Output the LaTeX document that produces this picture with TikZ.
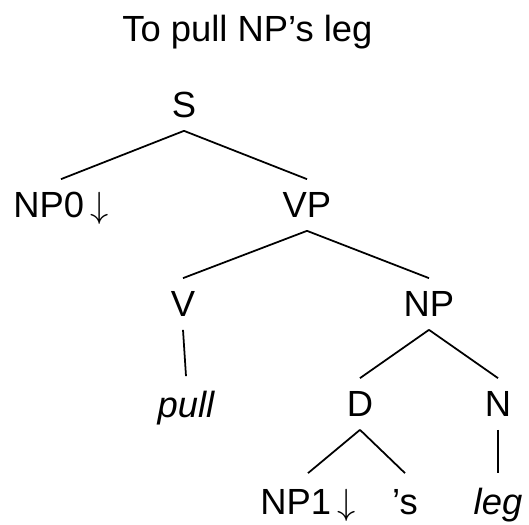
\documentclass[tikz,border=0pt]{standalone}
\usepackage{fontspec}
\setmainfont{Liberation Sans}
\usepackage{tikz}

\newcommand{\subst}{\ensuremath{\,\downarrow}}

\begin{document}
\begin{tikzpicture}[
    x=1cm, y=1cm,
    every node/.style={font=\fontsize{20.7}{24}\selectfont},
    cat/.style={anchor=base, inner sep=0.25cm, text height=0.52cm, text depth=0pt},
    leaf/.style={cat, text height=0.58cm},
    word/.style={leaf, font=\fontsize{20.7}{24}\selectfont\itshape},
    edge/.style={line width=1pt},
]
    \useasboundingbox (0, 0) rectangle (10.58, 10.5);

    % --- title ---
    \node[anchor=base, inner sep=0pt] (title) at (4.95, 9.66) {To pull NP’s leg};

    % --- nodes (absolute coordinates, top-to-bottom) ---
    \node[cat] (s)   at (3.68, 8.14) {S};
    \node[cat] (np0) at (1.22, 6.14) {NP0\subst};
    \node[cat] (vp)  at (6.14, 6.14) {VP};
    \node[cat] (v)   at (3.66, 4.16) {V};
    \node[cat] (np)  at (8.58, 4.16) {NP};
    \node[word] (pull) at (3.72, 2.14) {pull};
    \node[cat] (d)   at (7.20, 2.16) {D};
    \node[cat] (n)   at (9.96, 2.16) {N};
    \node[leaf] (np1) at (6.16, 0.20) {NP1\subst};
    \node[leaf] (poss) at (8.10, 0.20) {’s};
    \node[word] (leg) at (9.96, 0.20) {leg};

    % --- branches ---
    \draw[edge] (s.south)  -- (np0.north);
    \draw[edge] (s.south)  -- (vp.north);
    \draw[edge] (vp.south) -- (v.north);
    \draw[edge] (vp.south) -- (np.north);
    \draw[edge] (v.south)  -- (pull.north);
    \draw[edge] (np.south) -- (d.north);
    \draw[edge] (np.south) -- (n.north);
    \draw[edge] (d.south)  -- (np1.north);
    \draw[edge] (d.south)  -- (poss.north);
    \draw[edge] (n.south)  -- (leg.north);
\end{tikzpicture}
\end{document}
